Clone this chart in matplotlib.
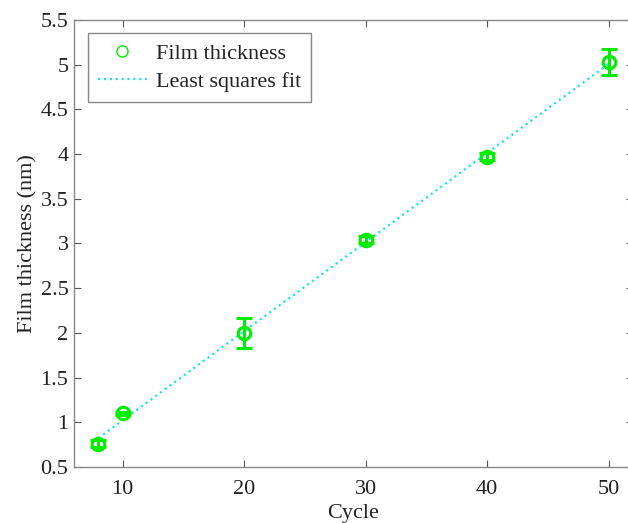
import matplotlib
matplotlib.use("Agg")
import matplotlib.pyplot as plt
import numpy as np

# data
cycles = [8, 10, 20, 30, 40, 50]
thickness = [0.76, 1.10, 2.00, 3.04, 3.97, 5.03]
thickness_err = [0.04, 0.02, 0.17, 0.04, 0.04, 0.15]

x_ticks = [10, 20, 30, 40, 50]
y_ticks = [0.5, 1, 1.5, 2, 2.5, 3, 3.5, 4, 4.5, 5, 5.5]

plt.rcParams["font.family"] = ["Liberation Serif", "DejaVu Serif"]
plt.rcParams["font.size"] = 16

fig = plt.figure(figsize=(6.28, 5.23), dpi=100)
# right spine falls just outside the image, as in the cropped original
ax = fig.add_axes([74 / 628, 1 - 467 / 523, 559 / 628, 447 / 523])

# least squares fit
slope, intercept = np.polyfit(cycles, thickness, 1)
xfit = np.array([cycles[0], cycles[-1]])
ax.plot(xfit, slope * xfit + intercept, linestyle=":", color="#22e0f0",
        linewidth=1.6, label="Least squares fit", zorder=2)

ax.errorbar(cycles, thickness, yerr=thickness_err, fmt="none",
            ecolor="#00ee00", elinewidth=2.2, capsize=6, capthick=2.2, zorder=3)
ax.plot(cycles, thickness, linestyle="none", marker="o", markersize=9,
        markerfacecolor="none", markeredgecolor="#00ee00",
        markeredgewidth=2.2, zorder=4)
# legend proxy with thin marker
ax.plot([], [], linestyle="none", marker="o", markersize=8,
        markerfacecolor="none", markeredgecolor="#00ee00",
        markeredgewidth=1, label="Film thickness")

ax.set_xlim(6, 52)
ax.set_ylim(0.5, 5.5)
ax.set_xticks(x_ticks)
ax.set_yticks(y_ticks)
ax.set_yticklabels([f"{v:g}" for v in y_ticks])

for s in ax.spines.values():
    s.set_color("#888888")
    s.set_linewidth(1)
ax.tick_params(direction="in", top=True, right=True, length=5,
               color="#555555", labelcolor="#222222", labelsize=16)
ax.tick_params(axis="x", pad=9)
ax.tick_params(axis="y", pad=4)

ax.set_xlabel("Cycle", fontsize=16, color="#222222", labelpad=4)
ax.set_ylabel("Film thickness (nm)", fontsize=16, color="#222222", labelpad=2)

handles, labels = ax.get_legend_handles_labels()
order = [labels.index("Film thickness"), labels.index("Least squares fit")]
leg = ax.legend([handles[i] for i in order], [labels[i] for i in order],
                loc="upper left", bbox_to_anchor=(0.025, 0.971),
                borderaxespad=0, fancybox=False,
                edgecolor="#888888", framealpha=1, fontsize=16,
                handlelength=2.2, borderpad=0.45, labelspacing=0.35,
                handletextpad=0.4)
leg.get_frame().set_linewidth(1)
for t in leg.get_texts():
    t.set_color("#222222")

fig.savefig("out.png", dpi=100)
